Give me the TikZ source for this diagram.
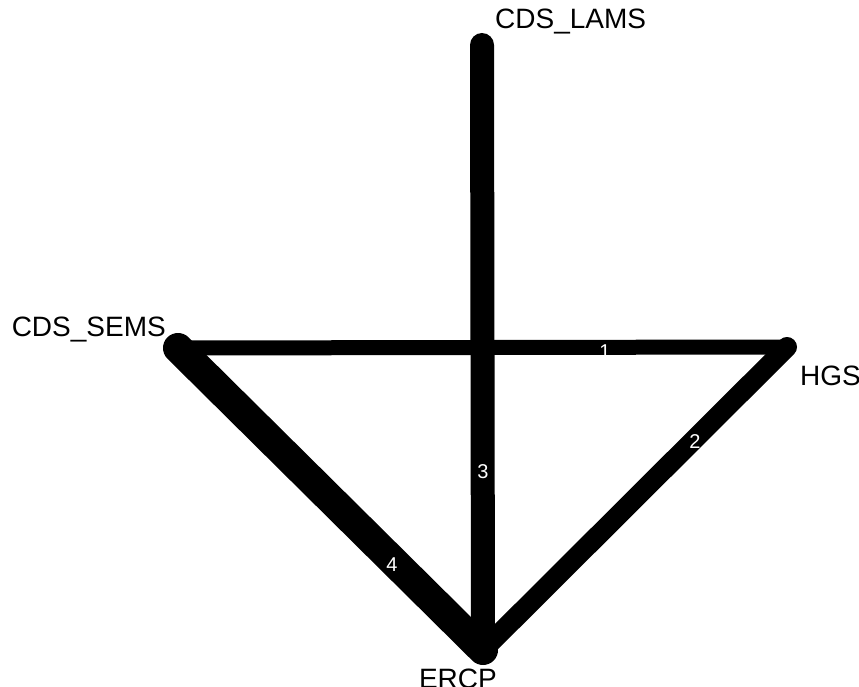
\documentclass[tikz,border=0pt]{standalone}
\usepackage{fontspec}
\setmainfont{Liberation Sans}
\begin{document}
\begin{tikzpicture}[x=1pt,y=-1pt,
  edge/.style={line cap=round,draw=black},
  lbl/.style={font=\fontsize{28}{30}\selectfont,inner sep=0pt},
  num/.style={font=\fontsize{20}{22}\selectfont,text=white,inner sep=0pt}]
\useasboundingbox (0,0) rectangle (859,687);
\coordinate (lams) at (482,45);
\coordinate (sems) at (178,348);
\coordinate (hgs) at (787,347);
\coordinate (ercp) at (483,650);
\draw[edge,line width=24pt] (lams) -- (ercp);
\draw[edge,line width=15pt] (sems) -- (hgs);
\draw[edge,line width=20pt] (hgs) -- (ercp);
\draw[edge,line width=30pt] (sems) -- (ercp);
\node[num] (n1) at (605,352) {1};
\node[num] (n2) at (695,442) {2};
\node[num] (n3) at (483,472) {3};
\node[num] (n4) at (392,565) {4};
\node[lbl,anchor=west] (tl) at (495,22) {CDS\_LAMS};
\node[lbl,anchor=east] (ts) at (166,330) {CDS\_SEMS};
\node[lbl,anchor=west] (th) at (800,376) {HGS};
\node[lbl,anchor=east] (te) at (497,679) {ERCP};
\end{tikzpicture}
\end{document}
